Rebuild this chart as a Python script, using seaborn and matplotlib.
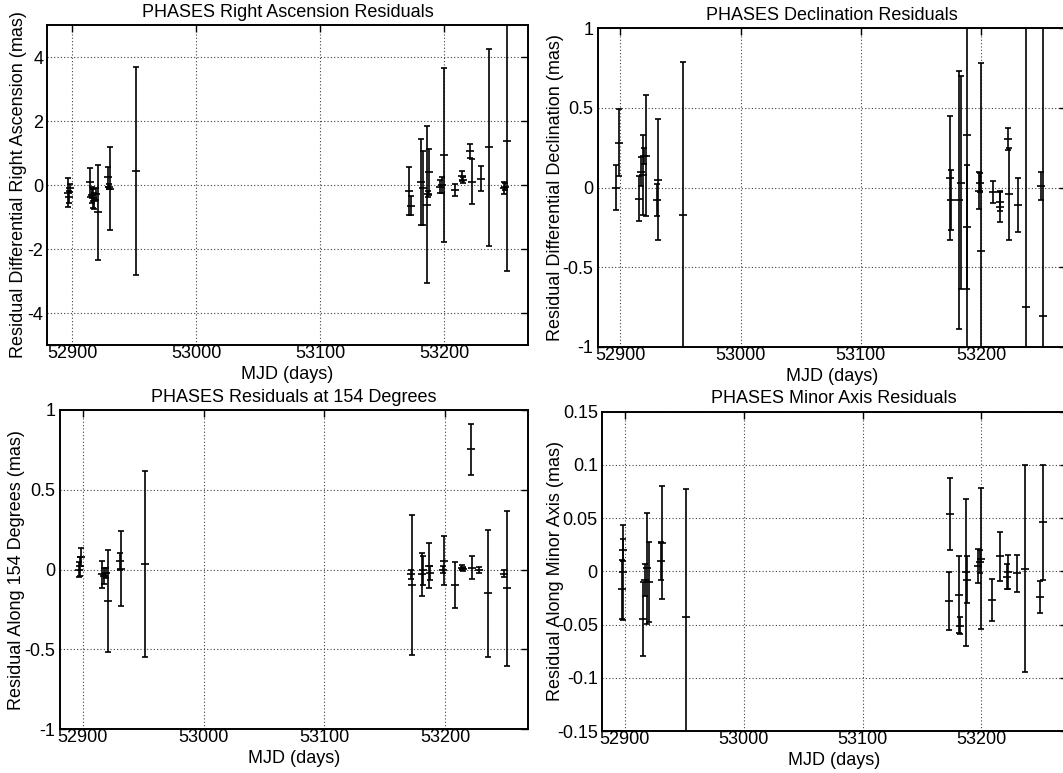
import numpy as np
import pandas as pd
import matplotlib
matplotlib.use("Agg")
import matplotlib.pyplot as plt
import seaborn as sns

# ---------------- data ----------------
ra_mjd = [52896.5, 52897.3, 52898.0, 52914.8, 52916.0, 52917.0, 52918.0, 52919.0, 52920.8,
          52929.0, 52929.8, 52930.5, 52951.4, 53172.0, 53173.0, 53181.5, 53182.8, 53186.5,
          53187.0, 53187.8, 53197.0, 53198.0, 53200.0, 53208.6, 53214.5, 53215.5, 53221.3,
          53222.3, 53230.0, 53236.5, 53248.5, 53249.5, 53251.2]
ra_res = [-0.24, -0.38, -0.10, 0.08, -0.30, -0.42, -0.50, -0.28, -0.85, 0.25, -0.05, -0.11,
          0.43, -0.18, -0.65, 0.10, -0.10, -0.62, -0.28, 0.42, -0.05, 0.0, 0.95, -0.15, 0.28,
          0.15, 1.05, 0.10, 0.20, 1.18, -0.10, -0.05, 1.37]
ra_err = [0.46, 0.18, 0.12, 0.45, 0.25, 0.30, 0.25, 0.20, 1.48, 0.32, 0.08, 1.29, 3.25, 0.75,
          0.30, 1.35, 1.15, 2.45, 0.10, 0.72, 0.20, 0.25, 2.72, 0.18, 0.15, 0.10, 0.22, 0.70,
          0.38, 3.08, 0.18, 0.10, 4.05]

dec_mjd = [52896.3, 52898.5, 52915.6, 52917.5, 52918.5, 52919.5, 52921.0, 52930.5, 52931.5,
           52952.2, 53174.0, 53175.0, 53181.5, 53183.5, 53187.9, 53188.5, 53198.5, 53199.0,
           53199.8, 53209.5, 53215.5, 53216.0, 53222.5, 53223.3, 53230.3, 53237.0, 53250.0,
           53251.6]
dec_res = [0.0, 0.28, -0.07, 0.10, 0.08, 0.20, 0.20, -0.08, 0.05, -0.17, 0.06, -0.08, -0.08,
           0.03, 0.33, -0.25, -0.02, 0.03, -0.40, -0.03, -0.12, -0.09, 0.305, -0.04, -0.11,
           -0.75, 0.01, -0.81]
dec_err = [0.14, 0.21, 0.14, 0.09, 0.25, 0.05, 0.38, 0.10, 0.38, 0.96, 0.39, 0.19, 0.81, 0.67,
           1.5, 0.39, 0.115, 0.06, 1.18, 0.07, 0.095, 0.06, 0.07, 0.29, 0.17, 2.0, 0.088, 1.9]

d154_mjd = [52897.0, 52897.5, 52898.5, 52915.5, 52917.4, 52918.8, 52921.0, 52930.8, 52931.6,
            52951.3, 53171.8, 53172.8, 53180.5, 53182.0, 53186.5, 53187.2, 53198.3, 53199.5,
            53208.3, 53214.0, 53215.0, 53221.6, 53222.0, 53228.4, 53235.9, 53249.1, 53251.0]
d154_res = [0.0, 0.02, 0.08, -0.03, -0.04, -0.02, -0.195, 0.052, 0.005, 0.035, -0.03, -0.095,
            -0.03, -0.005, 0.025, -0.02, 0.0, 0.057, -0.097, 0.012, 0.005, 0.753, 0.012,
            -0.001, -0.149, -0.025, -0.118]
d154_err = [0.045, 0.06, 0.055, 0.085, 0.05, 0.03, 0.32, 0.052, 0.235, 0.58, 0.03, 0.44, 0.135,
            0.09, 0.14, 0.045, 0.02, 0.152, 0.145, 0.015, 0.012, 0.159, 0.072, 0.02, 0.399,
            0.02, 0.488]

min_mjd = [52897.5, 52898.3, 52899.0, 52915.8, 52917.3, 52918.5, 52920.3, 52930.5, 52931.5,
           52951.9, 53172.6, 53173.9, 53181.5, 53182.3, 53186.7, 53187.7, 53197.5, 53198.5,
           53200.0, 53209.0, 53215.3, 53221.5, 53222.0, 53229.6, 53236.6, 53249.3, 53251.5]
min_res = [-0.017, -0.001, 0.02, -0.045, -0.008, 0.003, -0.01, 0.01, 0.027, -0.0425, -0.028,
           0.054, -0.022, -0.051, -0.001, -0.008, 0.005, 0.009, 0.012, -0.027, 0.014, -0.005,
           -0.001, -0.002, 0.0025, -0.024, 0.046]
min_err = [0.028, 0.045, 0.01, 0.035, 0.015, 0.052, 0.038, 0.018, 0.053, 0.12, 0.027, 0.034,
           0.036, 0.008, 0.069, 0.022, 0.016, 0.011, 0.066, 0.02, 0.023, 0.012, 0.016, 0.017,
           0.0975, 0.015, 0.054]

titles = ["PHASES Right Ascension Residuals", "PHASES Declination Residuals",
          "PHASES Residuals at 154 Degrees", "PHASES Minor Axis Residuals"]
ylabels = ["Residual Differential Right Ascension (mas)", "Residual Differential Declination (mas)",
           "Residual Along 154 Degrees (mas)", "Residual Along Minor Axis (mas)"]
xlabel = "MJD (days)"
xticks = [52900, 53000, 53100, 53200]
ra_yticks = [-4, -2, 0, 2, 4]
ra_ylabels = ["-4", "-2", "0", "2", "4"]
dec_yticks = [-1, -0.5, 0, 0.5, 1]
dec_ylabels = ["-1", "-0.5", "0", "0.5", "1"]
min_yticks = [-0.15, -0.1, -0.05, 0, 0.05, 0.1, 0.15]
min_ylabels = ["-0.15", "-0.1", "-0.05", "0", "0.05", "0.1", "0.15"]

# ---------------- style ----------------
sns.set_theme(style="white")
plt.rcParams["font.family"] = ["Liberation Sans", "DejaVu Sans"]
plt.rcParams["axes.unicode_minus"] = False

W, H = 1063, 773
fig = plt.figure(figsize=(W / 100, H / 100), dpi=100)
fig.patch.set_facecolor("white")

def box(l, t, r, b):
    return [l / W, 1 - b / H, (r - l) / W, (b - t) / H]

positions = [box(47.3, 25, 527.7, 345), box(597.6, 28.3, 1066.5, 346.7),
             box(59.5, 410, 528.4, 729.3), box(602, 411.7, 1066.5, 731)]
xlims = [(52880.0, 53267.5), (52881.0, 53271.0), (52880.6, 53269.0), (52881.0, 53271.5)]
ylab_offsets = [28.7, 42.0, 43.3, 46.6]

panels = [
    (ra_mjd, ra_res, ra_err, (-5, 5), ra_yticks, ra_ylabels),
    (dec_mjd, dec_res, dec_err, (-1, 1), dec_yticks, dec_ylabels),
    (d154_mjd, d154_res, d154_err, (-1, 1), dec_yticks, dec_ylabels),
    (min_mjd, min_res, min_err, (-0.15, 0.15), min_yticks, min_ylabels),
]

FS = 13
for i, (mjd, res, err, ylim, yt, ytl) in enumerate(panels):
    ax = fig.add_axes(positions[i])
    ax.set_facecolor("white")
    df = pd.DataFrame({"mjd": mjd, "res": res, "err": err})
    ax.errorbar(df["mjd"], df["res"], yerr=df["err"], fmt="none", ecolor="black",
                elinewidth=1.2, capsize=2.4, capthick=1.2, zorder=3)
    sns.scatterplot(data=df, x="mjd", y="res", ax=ax, marker="_", s=30, color="black",
                    linewidth=1.2, zorder=4, legend=False)
    ax.set_xlim(*xlims[i])
    ax.set_ylim(*ylim)
    ax.set_xticks(xticks)
    ax.set_xticklabels([str(v) for v in xticks])
    ax.set_yticks(yt)
    ax.set_yticklabels(ytl)
    ax.grid(True, color="0.25", linestyle=(0, (1, 2)), linewidth=0.8)
    ax.tick_params(direction="in", length=5, width=1.0, top=True, right=True,
                   labelsize=FS, colors="black", pad=3)
    ax.tick_params(axis="x", pad=0)
    for sp in ax.spines.values():
        sp.set_visible(True)
        sp.set_color("black")
        sp.set_linewidth(1.4)
    ax.set_title(titles[i], fontsize=FS, color="black", pad=6)
    ax.set_xlabel(xlabel, fontsize=FS, color="black")
    ax.set_ylabel(ylabels[i], fontsize=FS, color="black")
    wpx = positions[i][2] * W
    hpx = positions[i][3] * H
    ax.yaxis.set_label_coords(-ylab_offsets[i] / wpx, 0.5)
    ax.yaxis.label.set_va("center")
    ax.xaxis.set_label_coords(0.5, -21 / hpx)
    ax.xaxis.label.set_va("top")

fig.savefig("out.png", dpi=100, facecolor="white")
